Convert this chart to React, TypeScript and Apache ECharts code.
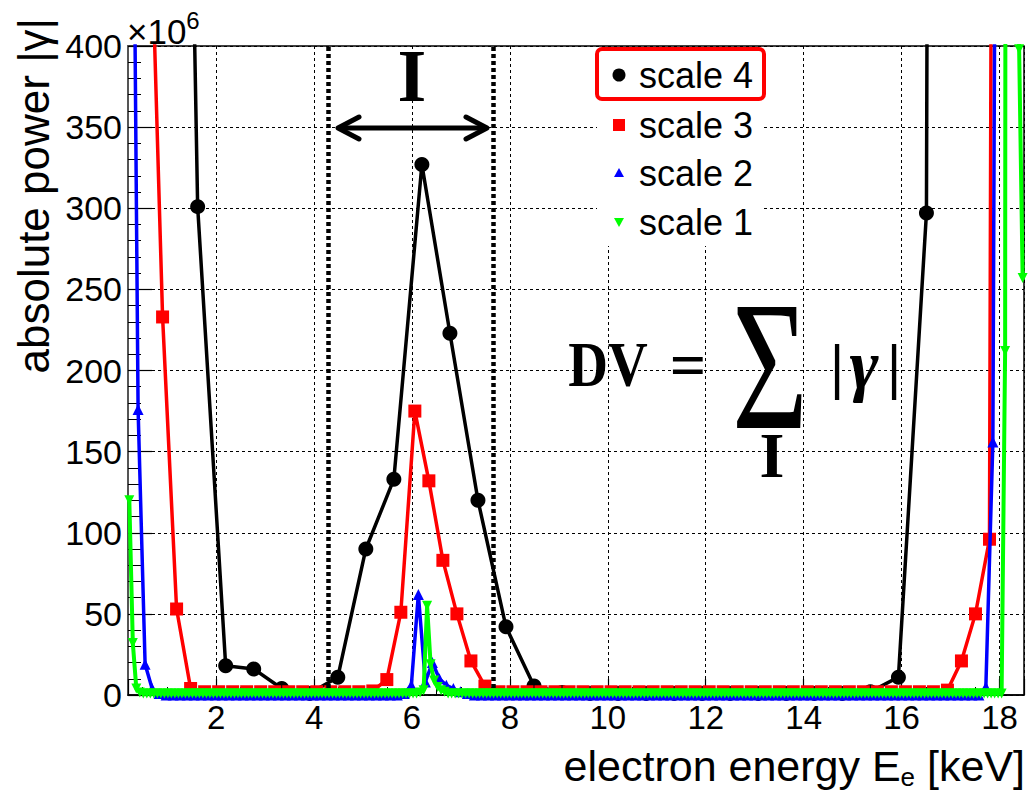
import React, { useEffect, useRef } from 'react';
import * as echarts from 'echarts';

const SANS = '"Liberation Sans", Arial, Helvetica, sans-serif';
const SERIF = '"Liberation Serif", "Times New Roman", serif';

// Sampling grids (keV) of each wavelet scale: first sample and spacing
const scale4Grid = { start: 1.05, step: 0.5725 };
const scale3Grid = { start: 0.62, step: 0.28625 };
const scale2Grid = { start: 0.263, step: 0.1431 };
const scale1Grid = { start: 0.227, step: 0.07155 };

// absolute power |gamma| (x10^6)
const scale4Values = [
  1250, 301, 18, 16, 4, 1, 11, 90, 133, 327, 223, 120, 42, 5.5, 1.5,
  1, 1, 1, 1, 1, 1, 1, 1, 1, 1,
  2, 11, 297, 6000,
];

const scale3Values = [
  530, 233, 53, 4,
  2, 2, 2, 2, 2, 2, 2, 2, 2, 2, 2, 2,
  2.5, 9.5, 51, 175, 132, 83, 50, 21, 5.5, 2,
  2, 2, 2, 2, 2, 2, 2, 2, 2, 2,
  2, 2, 2, 2, 2, 2, 2, 2, 2, 2,
  2, 2, 2, 2, 2, 2, 2, 2, 2, 2,
  2,
  3, 21, 50, 96, 3000,
];

const scale2Values = [
  700, 176, 19, 4, 1,
  0, 0, 0, 0, 0, 0, 0, 0, 0, 0,
  0, 0, 0, 0, 0, 0, 0, 0, 0, 0,
  0, 0, 0, 0, 0, 0, 0, 0, 0, 0,
  0, 0, 0, 0,
  1, 6, 62, 8, 20, 10, 6, 4, 2, 1,
  0, 0, 0, 0, 0, 0, 0, 0, 0, 0,
  0, 0, 0, 0, 0, 0, 0, 0, 0, 0,
  0, 0, 0, 0, 0, 0, 0, 0, 0, 0,
  0, 0, 0, 0, 0, 0, 0, 0, 0, 0,
  0, 0, 0, 0, 0, 0, 0, 0, 0, 0,
  0, 0, 0, 0, 0, 0, 0, 0, 0, 0,
  0, 0, 0, 0, 0, 0, 0, 0, 0, 0,
  0, 0, 0,
  5, 156, 1200,
];

const scale1Values = [
  120, 32, 4, 1.5,
  1, 1, 1, 1, 1, 1, 1, 1, 1, 1,
  1, 1, 1, 1, 1, 1, 1, 1, 1, 1,
  1, 1, 1, 1, 1, 1, 1, 1, 1, 1,
  1, 1, 1, 1, 1, 1, 1, 1, 1, 1,
  1, 1, 1, 1, 1, 1, 1, 1, 1, 1,
  1, 1, 1, 1, 1, 1, 1, 1, 1, 1,
  1, 1, 1, 1, 1, 1, 1, 1, 1, 1,
  1, 1, 1, 1, 1, 1, 1, 1,
  1, 1.5, 3, 55, 19, 9, 5, 3, 2,
  1, 1, 1, 1, 1, 1, 1, 1, 1, 1,
  1, 1, 1, 1, 1, 1, 1, 1, 1, 1,
  1, 1, 1, 1, 1, 1, 1, 1, 1, 1,
  1, 1, 1, 1, 1, 1, 1, 1, 1, 1,
  1, 1, 1, 1, 1, 1, 1, 1, 1, 1,
  1, 1, 1, 1, 1, 1, 1, 1, 1, 1,
  1, 1, 1, 1, 1, 1, 1, 1, 1, 1,
  1, 1, 1, 1, 1, 1, 1, 1, 1, 1,
  1, 1, 1, 1, 1, 1, 1, 1, 1, 1,
  1, 1, 1, 1, 1, 1, 1, 1, 1, 1,
  1, 1, 1, 1, 1, 1, 1, 1, 1, 1,
  1, 1, 1, 1, 1, 1, 1, 1, 1, 1,
  1, 1, 1, 1, 1, 1, 1, 1, 1, 1,
  1, 1, 1, 1, 1, 1, 1, 1, 1, 1,
  1, 1, 1, 1, 1, 1, 1, 1, 1, 1,
  1, 1, 1, 1, 1, 1, 1, 1, 1,
  212, 3000, 4000, 3000, 398, 257,
];

const seriesNames = ['scale 4', 'scale 3', 'scale 2', 'scale 1'];
const seriesColors = ['#000000', '#ff0000', '#0000ff', '#00ff00'];
const intervalBounds = [4.3, 7.67]; // keV, dotted lines of interval I

const xTitleMain = 'electron energy E';
const xTitleSub = 'e';
const xTitleUnit = ' [keV]';
const yTitle = 'absolute power |γ|';

function pairs(grid: { start: number; step: number }, values: number[]) {
  return values.map((v, i) => [+(grid.start + i * grid.step).toFixed(4), v]);
}

function measure(text: string, font: string) {
  const c = document.createElement('canvas').getContext('2d');
  if (!c) return text.length * 20;
  c.font = font;
  return c.measureText(text).width;
}

export default function App() {
  const ref = useRef<HTMLDivElement>(null);

  useEffect(() => {
    if (!ref.current) return;
    const chart = echarts.init(ref.current, null, { renderer: 'svg' });

    const legendY = [75, 125, 173, 222];

    const unitW = measure(xTitleUnit, '43px "Liberation Sans"');
    const subW = measure(xTitleSub, '26px "Liberation Sans"');
    const xTitleRight = 1025;

    const arrowStyle = {
      stroke: '#000',
      lineWidth: 5,
      lineCap: 'round',
      lineJoin: 'round',
      fill: 'none',
    };

    const option: any = {
      animation: false,
      backgroundColor: '#ffffff',
      grid: {
        left: 128,
        top: 46,
        right: 4,
        bottom: 98,
        show: true,
        borderColor: '#000',
        borderWidth: 1.5,
        backgroundColor: 'transparent',
      },
      xAxis: {
        type: 'value',
        min: 0.2,
        max: 18.5,
        splitNumber: 9,
        axisLine: { show: true, onZero: false, lineStyle: { color: '#000', width: 1.5 } },
        axisTick: { show: true, inside: true, length: 16, lineStyle: { color: '#000', width: 1.2 } },
        minorTick: { show: true, splitNumber: 4, length: 8, lineStyle: { color: '#000', width: 1 } },
        axisLabel: {
          showMinLabel: false,
          showMaxLabel: false,
          fontSize: 33,
          color: '#000',
          fontFamily: SANS,
          margin: 6,
        },
        splitLine: { show: true, lineStyle: { color: '#000', width: 1, type: [3, 3] } },
      },
      yAxis: {
        type: 'value',
        min: 0,
        max: 400,
        interval: 50,
        axisLine: { show: true, onZero: false, lineStyle: { color: '#555', width: 2 } },
        axisTick: { show: true, inside: true, length: 24, lineStyle: { color: '#000', width: 1.2 } },
        minorTick: { show: true, splitNumber: 5, length: 13, lineStyle: { color: '#000', width: 1 } },
        axisLabel: { fontSize: 34, color: '#000', fontFamily: SANS, margin: 6 },
        splitLine: { show: true, lineStyle: { color: '#000', width: 1, type: [3, 3] } },
      },
      series: [
        {
          name: seriesNames[0],
          type: 'line',
          data: pairs(scale4Grid, scale4Values),
          symbol: 'circle',
          symbolSize: 15,
          lineStyle: { color: seriesColors[0], width: 3.5 },
          itemStyle: { color: seriesColors[0] },
          z: 2,
          silent: true,
          clip: true,
          markLine: {
            silent: true,
            symbol: ['none', 'none'],
            label: { show: false },
            lineStyle: { color: '#000', width: 4.5, type: [4, 3] },
            data: intervalBounds.map((v) => ({ xAxis: v })),
          },
        },
        {
          name: seriesNames[1],
          type: 'line',
          data: pairs(scale3Grid, scale3Values),
          symbol: 'rect',
          symbolSize: 13,
          lineStyle: { color: seriesColors[1], width: 3.5 },
          itemStyle: { color: seriesColors[1] },
          z: 3,
          silent: true,
          clip: true,
        },
        {
          name: seriesNames[2],
          type: 'line',
          data: pairs(scale2Grid, scale2Values),
          symbol: 'triangle',
          symbolSize: 11,
          lineStyle: { color: seriesColors[2], width: 3.5 },
          itemStyle: { color: seriesColors[2] },
          z: 4,
          silent: true,
          clip: true,
        },
        {
          name: seriesNames[3],
          type: 'line',
          data: pairs(scale1Grid, scale1Values),
          symbol: 'triangle',
          symbolRotate: 180,
          symbolSize: 10,
          lineStyle: { color: seriesColors[3], width: 4 },
          itemStyle: { color: seriesColors[3] },
          z: 5,
          silent: true,
          clip: true,
        },
      ],
      graphic: [
        // x10^6 multiplier
        {
          type: 'text',
          x: 127,
          y: 31,
          z: 100,
          style: {
            text: '{a|×10}{p|6}',
            align: 'left',
            verticalAlign: 'middle',
            rich: {
              a: { fontSize: 35, fontFamily: SANS, fill: '#000' },
              p: { fontSize: 24, fontFamily: SANS, fill: '#000', padding: [0, 0, 22, 0] },
            },
          },
        },
        // y title
        {
          type: 'text',
          x: 33,
          y: 18,
          rotation: Math.PI / 2,
          z: 100,
          style: {
            text: yTitle,
            fontSize: 44,
            fontFamily: SANS,
            fill: '#000',
            align: 'right',
            verticalAlign: 'middle',
          },
        },
        // x title (main, subscript, unit)
        {
          type: 'text',
          x: xTitleRight - unitW - subW,
          y: 766,
          z: 100,
          style: {
            text: xTitleMain,
            fontSize: 43,
            fontFamily: SANS,
            fill: '#000',
            align: 'right',
            verticalAlign: 'middle',
          },
        },
        {
          type: 'text',
          x: xTitleRight - unitW,
          y: 777,
          z: 100,
          style: {
            text: xTitleSub,
            fontSize: 26,
            fontFamily: SANS,
            fill: '#000',
            align: 'right',
            verticalAlign: 'middle',
          },
        },
        {
          type: 'text',
          x: xTitleRight,
          y: 766,
          z: 100,
          style: {
            text: xTitleUnit,
            fontSize: 43,
            fontFamily: SANS,
            fill: '#000',
            align: 'right',
            verticalAlign: 'middle',
          },
        },
        // interval label I and arrow
        {
          type: 'text',
          x: 412,
          y: 76,
          z: 100,
          style: {
            text: 'I',
            fontSize: 74,
            fontWeight: 'bold',
            fontFamily: SERIF,
            fill: '#000',
            align: 'center',
            verticalAlign: 'middle',
          },
        },
        {
          type: 'group',
          z: 100,
          children: [
            {
              type: 'line',
              shape: { x1: 340, y1: 128, x2: 484, y2: 128 },
              style: arrowStyle,
            },
            {
              type: 'polyline',
              shape: { points: [[359, 117], [338, 128], [359, 139]] },
              style: arrowStyle,
            },
            {
              type: 'polyline',
              shape: { points: [[466, 117], [487, 128], [466, 139]] },
              style: arrowStyle,
            },
          ],
        },
        // formula DV = sum_I |gamma|
        {
          type: 'text',
          x: 608,
          y: 365,
          scaleX: 0.86,
          z: 100,
          style: {
            text: 'DV',
            fontSize: 64,
            fontWeight: 'bold',
            fontFamily: SERIF,
            fill: '#000',
            align: 'center',
            verticalAlign: 'middle',
          },
        },
        {
          type: 'text',
          x: 688,
          y: 365,
          z: 100,
          style: {
            text: '=',
            fontSize: 64,
            fontWeight: 'bold',
            fontFamily: SERIF,
            fill: '#000',
            align: 'center',
            verticalAlign: 'middle',
          },
        },
        {
          type: 'text',
          x: 770,
          y: 366,
          scaleX: 0.71,
          z: 100,
          style: {
            text: 'Σ',
            fontSize: 184,
            fontFamily: SERIF,
            fill: '#000',
            align: 'center',
            verticalAlign: 'middle',
          },
        },
        {
          type: 'text',
          x: 772,
          y: 455,
          z: 100,
          style: {
            text: 'I',
            fontSize: 64,
            fontWeight: 'bold',
            fontFamily: SERIF,
            fill: '#000',
            align: 'center',
            verticalAlign: 'middle',
          },
        },
        {
          type: 'text',
          x: 837,
          y: 366,
          z: 100,
          style: {
            text: '|',
            fontSize: 62,
            fontWeight: 'bold',
            fontFamily: SERIF,
            fill: '#000',
            align: 'center',
            verticalAlign: 'middle',
          },
        },
        {
          type: 'text',
          x: 864,
          y: 364,
          z: 100,
          style: {
            text: 'γ',
            fontSize: 70,
            fontWeight: 'bold',
            fontStyle: 'italic',
            fontFamily: SERIF,
            fill: '#000',
            align: 'center',
            verticalAlign: 'middle',
          },
        },
        {
          type: 'text',
          x: 894,
          y: 366,
          z: 100,
          style: {
            text: '|',
            fontSize: 62,
            fontWeight: 'bold',
            fontFamily: SERIF,
            fill: '#000',
            align: 'center',
            verticalAlign: 'middle',
          },
        },
        // legend
        {
          type: 'rect',
          z: 100,
          shape: { x: 597, y: 47, width: 166, height: 199 },
          style: { fill: '#ffffff' },
        },
        {
          type: 'rect',
          z: 101,
          shape: { x: 597, y: 49, width: 167, height: 50, r: 5 },
          style: { fill: 'none', stroke: '#ff0000', lineWidth: 4 },
        },
        {
          type: 'circle',
          z: 101,
          shape: { cx: 619, cy: legendY[0], r: 6.5 },
          style: { fill: seriesColors[0] },
        },
        {
          type: 'rect',
          z: 101,
          shape: { x: 613, y: legendY[1] - 6, width: 12, height: 12 },
          style: { fill: seriesColors[1] },
        },
        {
          type: 'polygon',
          z: 101,
          shape: { points: [[619, legendY[2] - 5], [624, legendY[2] + 4], [614, legendY[2] + 4]] },
          style: { fill: seriesColors[2] },
        },
        {
          type: 'polygon',
          z: 101,
          shape: { points: [[614, legendY[3] - 4], [624, legendY[3] - 4], [619, legendY[3] + 5]] },
          style: { fill: seriesColors[3] },
        },
        ...seriesNames.map((name, i) => ({
          type: 'text',
          x: 639,
          y: legendY[i],
          z: 101,
          style: {
            text: name,
            fontSize: 36,
            fontFamily: SANS,
            fill: '#000',
            align: 'left',
            verticalAlign: 'middle',
          },
        })),
      ],
    };

    chart.setOption(option);
    return () => chart.dispose();
  }, []);

  return (
    <div
      ref={ref}
      style={{ position: 'absolute', left: 0, top: 0, width: 1028, height: 793, background: '#fff' }}
    />
  );
}
